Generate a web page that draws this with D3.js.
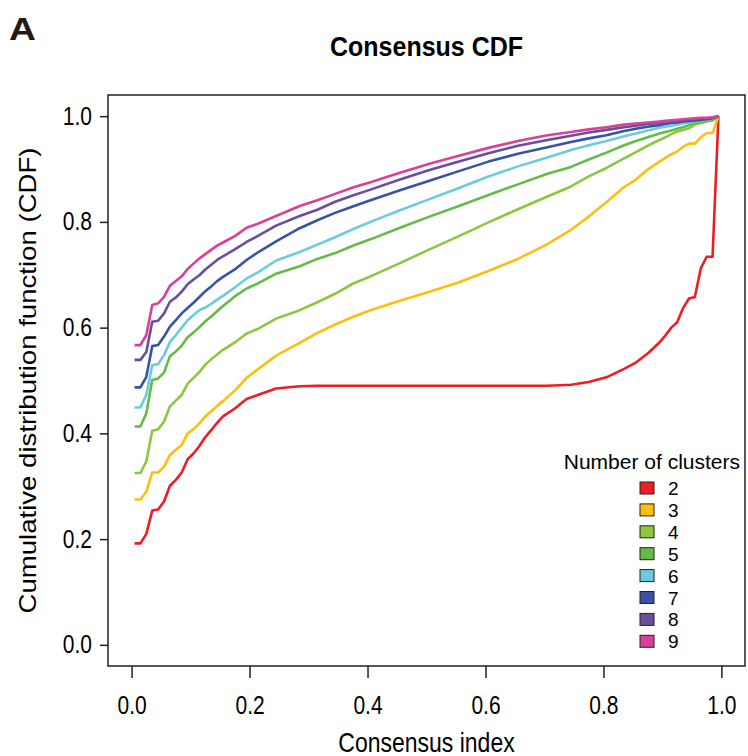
<!DOCTYPE html>
<html>
<head>
<meta charset="utf-8">
<script src="https://cdn.jsdelivr.net/npm/d3@7"></script>
<style>
  html, body { margin: 0; padding: 0; background: #fff; }
  svg { display: block; font-family: "Liberation Sans", Arial, Helvetica, sans-serif; }
</style>
</head>
<body>
<svg id="chart" width="748" height="756"></svg>
<script>
// ---- data ----
const consensusIndex = [0.005,0.015,0.025,0.035,0.045,0.055,0.065,0.075,0.085,0.095,0.105,0.115,0.125,0.135,0.145,0.155,0.175,0.195,0.215,0.245,0.285,0.315,0.345,0.375,0.405,0.455,0.505,0.555,0.605,0.655,0.705,0.745,0.775,0.805,0.835,0.855,0.875,0.895,0.905,0.915,0.925,0.935,0.945,0.955,0.965,0.975,0.985,0.995];

const clusterLabels = ["2","3","4","5","6","7","8","9"];
const clusterColors = ["#EE1D24","#FDBE10","#8DC63F","#66BB46","#6ACCDD","#3953A4","#6A4E9E","#DC3F96"];

const cdfK2 = [0.192,0.192,0.210,0.254,0.256,0.271,0.301,0.312,0.326,0.351,0.362,0.376,0.393,0.406,0.420,0.432,0.447,0.465,0.473,0.485,0.489,0.490,0.490,0.490,0.490,0.490,0.490,0.490,0.490,0.490,0.490,0.492,0.497,0.506,0.522,0.534,0.551,0.572,0.585,0.600,0.610,0.637,0.655,0.658,0.712,0.734,0.734,1.000];
const cdfK3 = [0.275,0.275,0.290,0.326,0.326,0.337,0.359,0.369,0.378,0.400,0.408,0.419,0.432,0.442,0.452,0.461,0.481,0.505,0.522,0.547,0.571,0.590,0.606,0.620,0.633,0.651,0.668,0.686,0.707,0.730,0.758,0.785,0.810,0.837,0.866,0.880,0.899,0.914,0.921,0.928,0.933,0.942,0.948,0.948,0.960,0.968,0.968,1.000];
const cdfK4 = [0.325,0.325,0.347,0.405,0.408,0.422,0.451,0.462,0.473,0.494,0.505,0.516,0.530,0.540,0.549,0.558,0.572,0.589,0.598,0.617,0.633,0.648,0.664,0.683,0.697,0.722,0.748,0.773,0.799,0.824,0.848,0.867,0.886,0.902,0.920,0.932,0.944,0.955,0.960,0.966,0.971,0.974,0.977,0.984,0.987,0.990,0.992,1.000];
const cdfK5 = [0.413,0.413,0.438,0.501,0.504,0.515,0.546,0.555,0.566,0.582,0.591,0.601,0.612,0.621,0.631,0.641,0.659,0.674,0.684,0.702,0.716,0.730,0.741,0.755,0.767,0.789,0.810,0.830,0.851,0.871,0.891,0.904,0.918,0.931,0.945,0.953,0.960,0.967,0.970,0.973,0.976,0.979,0.983,0.987,0.989,0.991,0.993,1.000];
const cdfK6 = [0.449,0.449,0.473,0.529,0.531,0.548,0.573,0.586,0.600,0.614,0.624,0.633,0.638,0.645,0.653,0.660,0.676,0.693,0.705,0.727,0.743,0.757,0.771,0.786,0.800,0.822,0.843,0.864,0.886,0.905,0.922,0.936,0.945,0.953,0.962,0.967,0.973,0.978,0.980,0.982,0.984,0.986,0.988,0.990,0.991,0.993,0.995,1.000];
const cdfK7 = [0.487,0.487,0.507,0.565,0.567,0.583,0.602,0.614,0.627,0.637,0.647,0.658,0.669,0.678,0.688,0.696,0.710,0.728,0.743,0.763,0.788,0.803,0.817,0.829,0.841,0.860,0.878,0.896,0.914,0.929,0.941,0.951,0.958,0.964,0.972,0.976,0.980,0.983,0.985,0.987,0.988,0.990,0.991,0.992,0.993,0.994,0.996,1.000];
const cdfK8 = [0.539,0.539,0.554,0.611,0.613,0.627,0.649,0.657,0.668,0.682,0.691,0.699,0.710,0.719,0.728,0.735,0.748,0.762,0.774,0.793,0.811,0.823,0.838,0.850,0.861,0.880,0.898,0.914,0.930,0.944,0.955,0.963,0.969,0.974,0.979,0.982,0.985,0.987,0.988,0.990,0.991,0.992,0.993,0.994,0.995,0.996,0.997,1.000];
const cdfK9 = [0.567,0.567,0.586,0.643,0.646,0.658,0.679,0.688,0.697,0.711,0.721,0.731,0.739,0.747,0.755,0.761,0.773,0.789,0.797,0.811,0.830,0.841,0.853,0.865,0.875,0.893,0.910,0.925,0.940,0.953,0.964,0.970,0.975,0.979,0.984,0.986,0.988,0.990,0.991,0.992,0.993,0.994,0.995,0.996,0.997,0.997,0.998,1.000];

const axisTicks = [0, 0.2, 0.4, 0.6, 0.8, 1.0];

const seriesValues = [cdfK2, cdfK3, cdfK4, cdfK5, cdfK6, cdfK7, cdfK8, cdfK9];

// ---- layout ----
const svg = d3.select("#chart");
const box = { left: 108, right: 745, top: 95, bottom: 666 };
const SY = 1.2; // glyphs in the reference are drawn taller than wide

const x = d3.scaleLinear().domain([-0.04, 1.04]).range([box.left, box.right]);
const y = d3.scaleLinear().domain([-0.04, 1.04]).range([box.bottom, box.top]);

function label(px, py, str, size, opts = {}) {
  const t = svg.append("text")
    .attr("transform", `translate(${px},${py}) scale(${opts.sx || 1},${opts.sy || SY})${opts.rot ? " rotate(" + opts.rot + ")" : ""}`)
    .attr("font-size", size)
    .attr("text-anchor", opts.anchor || "start")
    .attr("fill", opts.fill || "#000")
    .text(str);
  if (opts.bold) t.attr("font-weight", "bold");
  return t;
}

// panel letter
label(9, 40, "A", 31, { bold: true, sx: 1.2, sy: 1, fill: "#231815" });

// title
label((box.left + box.right) / 2, 56, "Consensus CDF", 25, { bold: true, anchor: "middle", sy: 1.1 });

// lines
const line = d3.line().x((d, i) => x(consensusIndex[i])).y(d => y(d));
const lines = svg.append("g");
seriesValues.forEach((vals, k) => {
  lines.append("path").datum(vals)
    .attr("d", line)
    .attr("fill", "none")
    .attr("stroke", clusterColors[k])
    .attr("stroke-width", 2.6)
    .attr("stroke-linejoin", "round");
});

// box
svg.append("rect")
  .attr("x", box.left).attr("y", box.top)
  .attr("width", box.right - box.left).attr("height", box.bottom - box.top)
  .attr("fill", "none").attr("stroke", "#222").attr("stroke-width", 1.5);

// axes
const fmt = d3.format(".1f");
const yAxis = svg.append("g").attr("transform", `translate(${box.left},0)`)
  .call(d3.axisLeft(y).tickValues(axisTicks).tickFormat(fmt).tickSize(8).tickPadding(8));
const xAxis = svg.append("g").attr("transform", `translate(0,${box.bottom})`)
  .call(d3.axisBottom(x).tickValues(axisTicks).tickFormat(fmt).tickSize(12).tickPadding(13));
[yAxis, xAxis].forEach(g => {
  g.select(".domain").remove();
  g.selectAll(".tick line").attr("stroke", "#222").attr("stroke-width", 1.5);
  g.selectAll(".tick text").attr("font-size", 21).attr("fill", "#000")
    .attr("font-family", "'Liberation Sans', Arial, sans-serif")
    .attr("transform", `scale(1,${SY})`);
});

// axis titles
label((box.left + box.right) / 2, 752, "Consensus index", 23, { anchor: "middle" });
label(36, (box.top + box.bottom) / 2, "Cumulative distribution function (CDF)", 23, { anchor: "middle", rot: -90 });

// legend
label(740, 469, "Number of clusters", 21, { anchor: "end", sy: 1.0 });
clusterLabels.forEach((lab, i) => {
  const cy = 488 + i * 21.9;
  svg.append("rect").attr("x", 640).attr("y", cy - 6).attr("width", 14).attr("height", 12)
    .attr("fill", clusterColors[i]).attr("stroke", "#222").attr("stroke-width", 1);
  label(668, cy + 7, lab, 19, { sy: 1.0 });
});
</script>
</body>
</html>
